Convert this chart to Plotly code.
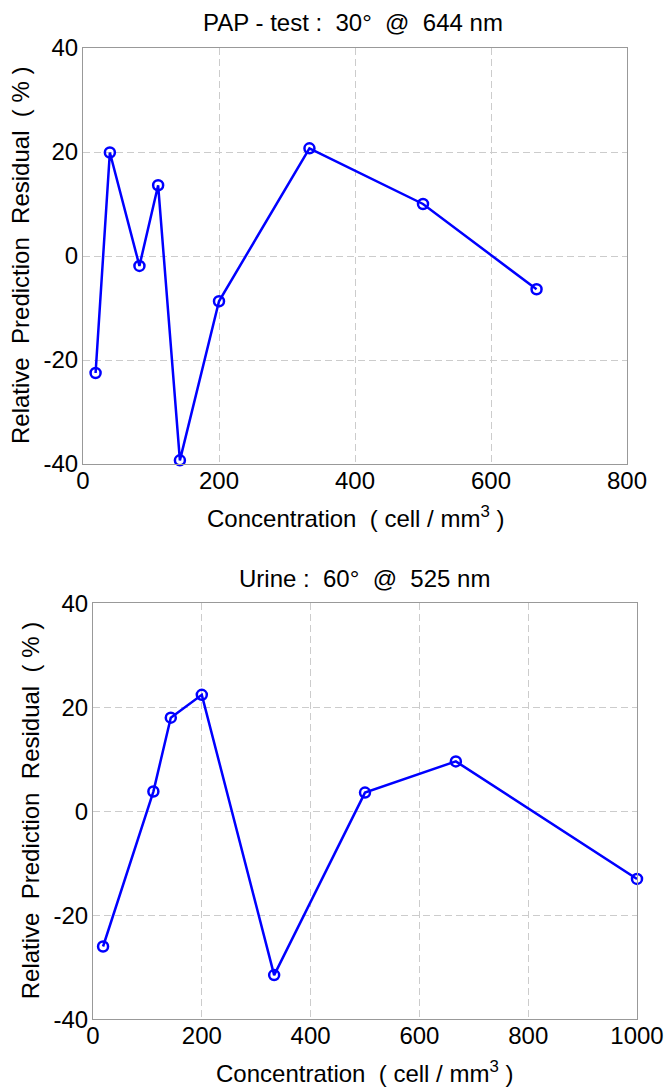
import plotly.graph_objects as go

# Top panel: PAP - test
top_x = [18.5, 39.5, 83, 110.5, 142.5, 200, 333, 500, 667]
top_y = [-22.5, 19.9, -1.9, 13.6, -39.3, -8.7, 20.7, 10.0, -6.4]
# Bottom panel: Urine
bot_x = [18.5, 111, 143, 200, 333, 500, 667, 1000]
bot_y = [-26.0, 3.8, 18.0, 22.4, -31.5, 3.6, 9.6, -13.0]

top_xticks = [0, 200, 400, 600, 800]
bot_xticks = [0, 200, 400, 600, 800, 1000]
yticks = [-40, -20, 0, 20, 40]
ytick_text = ["-40", "-20", "0", "20", "40"]

top_title = "PAP - test :\u00a0 30°\u00a0 @\u00a0 644 nm"
bot_title = "Urine :\u00a0 60°\u00a0 @\u00a0 525 nm"
x_title = "Concentration\u00a0 ( cell / mm<sup>3</sup> )"
y_title = "Relative\u00a0 Prediction\u00a0 Residual\u00a0 ( % )"

FONT = "Liberation Sans, Arial, sans-serif"
blue = "#0000ff"

fig = go.Figure()
for xs, ys, xa, ya in [(top_x, top_y, "x", "y"), (bot_x, bot_y, "x2", "y2")]:
    fig.add_trace(go.Scatter(x=xs, y=ys, mode="lines+markers", xaxis=xa, yaxis=ya,
                             line=dict(color=blue, width=2.5),
                             marker=dict(symbol="circle-open", size=10, color=blue,
                                         line=dict(width=2.5, color=blue)),
                             showlegend=False, cliponaxis=False))

W, H = 664, 1088

def px(x):
    return x / W

def py(y):
    return 1 - y / H

tdx = [px(83), px(627)]
tdy = [py(464), py(48)]
bdx = [px(93), px(637)]
bdy = [py(1019.3), py(603.3)]

axis_common = dict(
    showline=True, linecolor="#999999", linewidth=1, mirror=True,
    showgrid=True, gridcolor="#cccccc", griddash="7px,4px", gridwidth=1,
    zeroline=False, ticks="", automargin=False,
    tickfont=dict(family=FONT, size=24, color="black"),
)

fig.update_layout(
    width=W, height=H,
    margin=dict(l=0, r=0, t=0, b=0),
    paper_bgcolor="white", plot_bgcolor="white",
    font=dict(family=FONT, color="black"),
    xaxis=dict(domain=tdx, range=[0, 800], tickvals=top_xticks, anchor="y",
               ticklabelstandoff=-5, **axis_common),
    yaxis=dict(domain=tdy, range=[-40, 40], tickvals=yticks, ticktext=ytick_text, anchor="x",
               ticklabelstandoff=-1, **axis_common),
    xaxis2=dict(domain=bdx, range=[0, 1000], tickvals=bot_xticks, anchor="y2",
                ticklabelstandoff=-5, **axis_common),
    yaxis2=dict(domain=bdy, range=[-40, 40], tickvals=yticks, ticktext=ytick_text, anchor="x2",
                ticklabelstandoff=-1, **axis_common),
)

def a(text, x, y, size, angle=0):
    return dict(text=text, x=px(x), y=py(y), xref="paper", yref="paper", showarrow=False,
                textangle=angle, font=dict(size=size, family=FONT, color="black"),
                xanchor="center", yanchor="middle")

ann = [
    a(top_title, 353, 22, 24),
    a(bot_title, 365, 578, 24),
    a(x_title, 355, 517, 24),
    a(x_title, 365, 1072, 24),
    a(y_title, 20, (48 + 464) / 2, 24, -90),
    a(y_title, 30, (603.3 + 1019.3) / 2, 24, -90),
]
fig.update_layout(annotations=ann)

fig.write_html("out.html",
               config={"displayModeBar": False},
               post_script="document.body.style.margin='0';document.body.style.overflow='hidden';")
